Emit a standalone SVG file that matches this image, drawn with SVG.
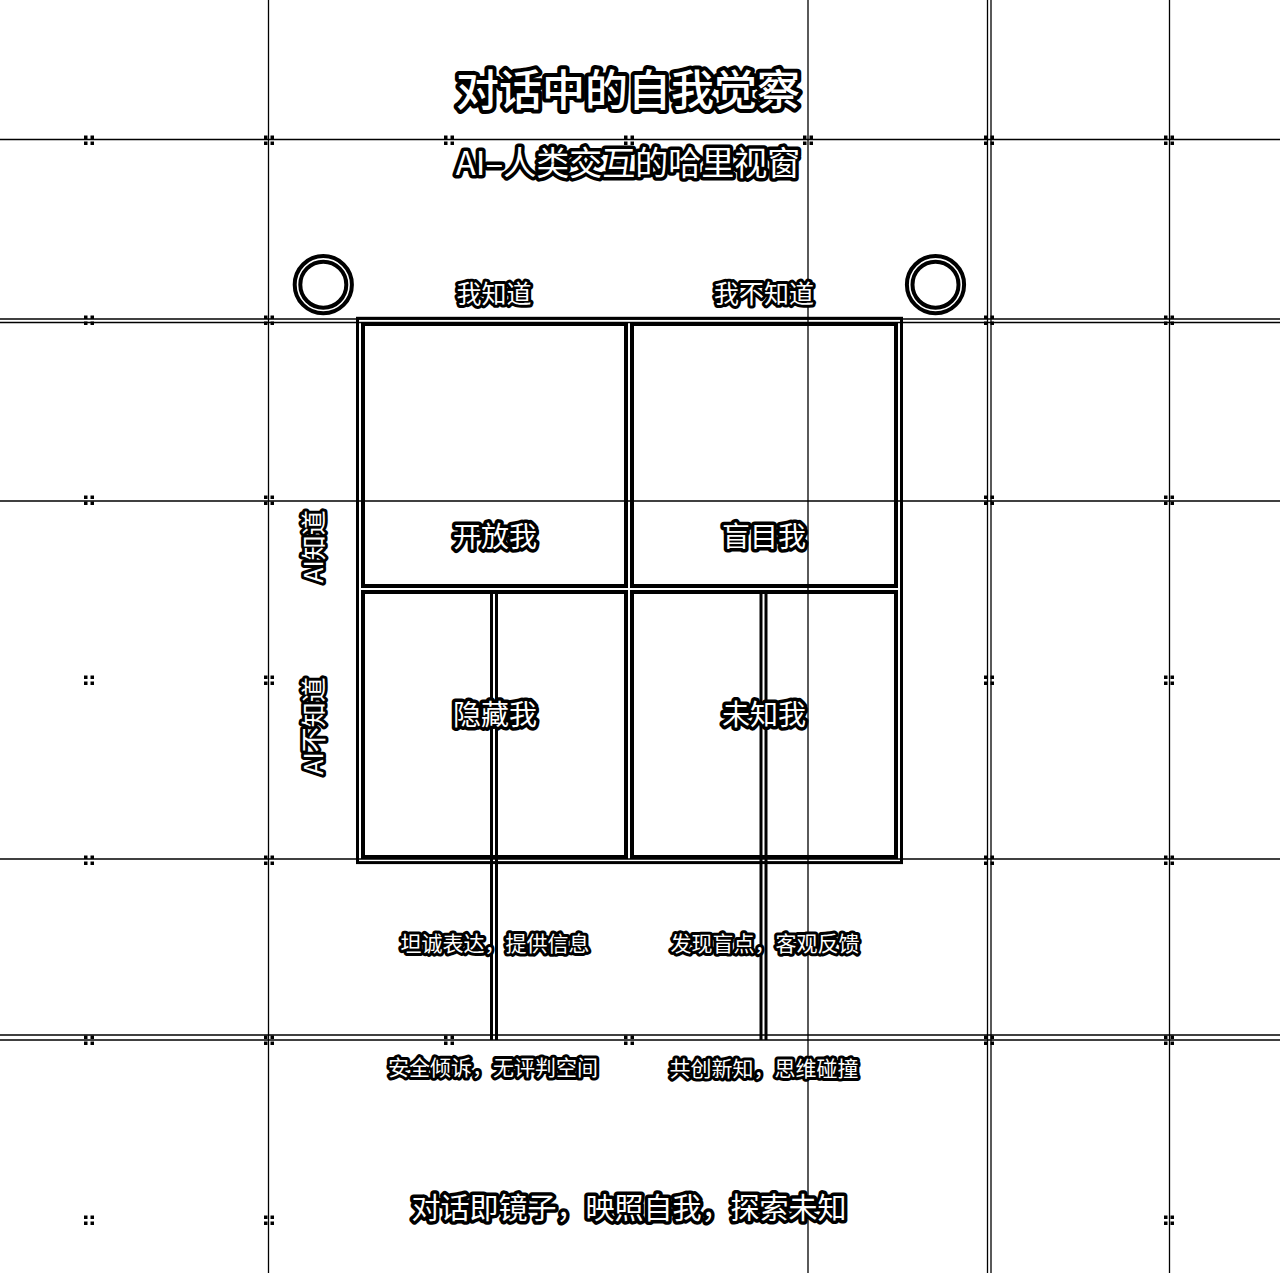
<svg xmlns="http://www.w3.org/2000/svg" xmlns:xlink="http://www.w3.org/1999/xlink" width="1280" height="1273" viewBox="0 0 1280 1273">
<style>
.g{stroke:#000;stroke-width:1.3;fill:none}
.c{stroke:#000;stroke-width:3;fill:none}
.cell{stroke:#000;stroke-width:4;fill:none}
.ring{stroke:#000;stroke-width:4;fill:none}
.t{font-family:"Noto Sans CJK SC","Noto Sans",sans-serif;fill:#fff;stroke:#000;paint-order:stroke;stroke-linejoin:round;text-anchor:middle}
.h1{font-size:43px;stroke-width:8;font-weight:500}
.h2{font-size:33px;stroke-width:7}
.ax{font-size:25px;stroke-width:6}
.q{font-size:28px;stroke-width:7}
.s{font-size:21px;stroke-width:6}
.f{font-size:29px;stroke-width:7}
</style>
<defs>
<g id="mk" fill="#000">
<rect x="-5" y="-4.5" width="3.5" height="3.5"/><rect x="1.5" y="-4.5" width="3.5" height="3.5"/>
<rect x="-5" y="1.5" width="3.5" height="3.5"/><rect x="1.5" y="1.5" width="3.5" height="3.5"/>
</g>
</defs>
<rect width="1280" height="1273" fill="#fff"/>
<g id="grid">
<line class="g" x1="0" y1="139.5" x2="1280" y2="139.5"/>
<line class="g" x1="0" y1="319" x2="1280" y2="319"/>
<line class="g" x1="0" y1="322.5" x2="1280" y2="322.5"/>
<line class="g" x1="0" y1="501" x2="1280" y2="501"/>
<line class="g" x1="0" y1="859" x2="1280" y2="859"/>
<line class="g" x1="0" y1="1035" x2="1280" y2="1035"/>
<line class="g" x1="0" y1="1040" x2="1280" y2="1040"/>
<line class="g" x1="268.5" y1="0" x2="268.5" y2="1273"/>
<line class="g" x1="808" y1="0" x2="808" y2="1273"/>
<line class="g" x1="987.5" y1="0" x2="987.5" y2="1273"/>
<line class="g" x1="991" y1="0" x2="991" y2="1273"/>
<line class="g" x1="1169.5" y1="0" x2="1169.5" y2="1273"/>
<use href="#mk" x="89" y="140"/><use href="#mk" x="269" y="140"/><use href="#mk" x="449" y="140"/><use href="#mk" x="629" y="140"/><use href="#mk" x="808" y="140"/><use href="#mk" x="989" y="140"/><use href="#mk" x="1169" y="140"/>
<use href="#mk" x="89" y="320"/><use href="#mk" x="269" y="320"/><use href="#mk" x="989" y="320"/><use href="#mk" x="1169" y="320"/>
<use href="#mk" x="89" y="500"/><use href="#mk" x="269" y="500"/><use href="#mk" x="989" y="500"/><use href="#mk" x="1169" y="500"/>
<use href="#mk" x="89" y="680"/><use href="#mk" x="269" y="680"/><use href="#mk" x="989" y="680"/><use href="#mk" x="1169" y="680"/>
<use href="#mk" x="89" y="860"/><use href="#mk" x="269" y="860"/><use href="#mk" x="989" y="860"/><use href="#mk" x="1169" y="860"/>
<use href="#mk" x="89" y="1040"/><use href="#mk" x="269" y="1040"/><use href="#mk" x="449" y="1040"/><use href="#mk" x="629" y="1040"/><use href="#mk" x="989" y="1040"/><use href="#mk" x="1169" y="1040"/>
<use href="#mk" x="89" y="1220"/><use href="#mk" x="269" y="1220"/><use href="#mk" x="1169" y="1220"/>
</g>
<g id="title">
<text class="t h1" x="628" y="106">对话中的自我觉察</text>
<text class="t h2" x="628" y="175">AI–人类交互的哈里视窗</text>
</g>
<g id="circle-left"><circle class="ring" cx="323.3" cy="284.7" r="28.6"/><circle class="ring" cx="323.3" cy="284.7" r="23"/></g>
<g id="circle-right"><circle class="ring" cx="935.5" cy="284.7" r="28.6"/><circle class="ring" cx="935.5" cy="284.7" r="23"/></g>
<g id="window-frame"><rect x="357.5" y="318.3" width="544" height="544.3" fill="none" stroke="#000" stroke-width="3"/></g>
<g id="connectors">
<line class="c" x1="491.5" y1="590" x2="491.5" y2="1040"/>
<line class="c" x1="496.5" y1="590" x2="496.5" y2="1040"/>
<line class="c" x1="761" y1="590" x2="761" y2="1040"/>
<line class="c" x1="766" y1="590" x2="766" y2="1040"/>
</g>
<g id="open-self"><rect class="cell" x="363" y="324" width="263" height="262"/><text class="t q" x="495" y="547">开放我</text></g>
<g id="blind-self"><rect class="cell" x="632" y="324" width="264" height="262"/><text class="t q" x="764" y="547">盲目我</text></g>
<g id="hidden-self"><rect class="cell" x="363" y="592" width="263" height="265"/><text class="t q" x="495" y="725">隐藏我</text></g>
<g id="unknown-self"><rect class="cell" x="632" y="592" width="264" height="265"/><text class="t q" x="764" y="725">未知我</text></g>
<g id="axis-labels">
<text class="t ax" x="494" y="303">我知道</text>
<text class="t ax" x="764" y="303">我不知道</text>
<text class="t ax" transform="translate(313.5,546.5) rotate(-90)" x="0" y="9">AI知道</text>
<text class="t ax" transform="translate(313.5,726) rotate(-90)" x="0" y="9">AI不知道</text>
</g>
<g id="desc-open"><text class="t s" x="495" y="951">坦诚表达，提供信息</text></g>
<g id="desc-blind"><text class="t s" x="765" y="951">发现盲点，客观反馈</text></g>
<g id="desc-hidden"><text class="t s" x="493" y="1075">安全倾诉，无评判空间</text></g>
<g id="desc-unknown"><text class="t s" x="764" y="1076">共创新知，思维碰撞</text></g>
<g id="footer"><text class="t f" x="629" y="1219">对话即镜子，映照自我，探索未知</text></g>
</svg>
